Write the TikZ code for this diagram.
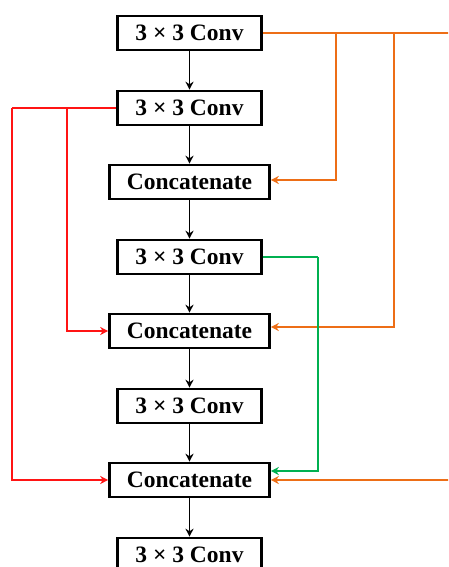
\documentclass[tikz,border=0pt]{standalone}
\usepackage{fontspec}
\setmainfont{Liberation Serif}
\usetikzlibrary{arrows.meta}
\definecolor{skiporange}{RGB}{237,110,22}
\definecolor{skipred}{RGB}{255,20,20}
\definecolor{skipgreen}{RGB}{0,176,80}
\tikzset{
  convbox/.style={draw=black, line width=2.6pt, fill=white, inner sep=0pt,
    minimum width=144pt, minimum height=34pt, font=\fontsize{23.5}{25}\selectfont\bfseries},
  catbox/.style={convbox, minimum width=160pt},
  flow/.style={line width=1.6pt, -{Stealth[length=8pt,width=8pt]}},
  skip/.style={line width=1.6pt, -{Stealth[length=8pt,width=8pt,inset=2.5pt]}},
}
\begin{document}
\begin{tikzpicture}[x=1pt,y=-1pt]
  \useasboundingbox (0,0) rectangle (448,567);
  \clip (0,0) rectangle (448,567);

  % main column
  \node[convbox] (c1) at (189.5,33)  {3 × 3 Conv};
  \node[convbox] (c2) at (189.5,108) {3 × 3 Conv};
  \node[catbox]  (k1) at (189.5,182) {Concatenate};
  \node[convbox] (c3) at (189.5,257) {3 × 3 Conv};
  \node[catbox]  (k2) at (189.5,331) {Concatenate};
  \node[convbox] (c4) at (189.5,406) {3 × 3 Conv};
  \node[catbox]  (k3) at (189.5,480) {Concatenate};
  \node[convbox] (c5) at (189.5,555) {3 × 3 Conv};

  \draw[flow] (c1) -- (c2);
  \draw[flow] (c2) -- (k1);
  \draw[flow] (k1) -- (c3);
  \draw[flow] (c3) -- (k2);
  \draw[flow] (k2) -- (c4);
  \draw[flow] (c4) -- (k3);
  \draw[flow] (k3) -- (c5);

  % orange skips from the first convolution
  \coordinate (oa) at (336,33);
  \coordinate (ob) at (394,33);
  \coordinate (oc) at (470,33);
  \draw[skiporange, line width=1.6pt] (c1.east) -- (oc) -- (oc |- k3.east);
  \draw[skip, skiporange] (oa) |- ([yshift=2pt]k1.east);
  \draw[skip, skiporange] (ob) |- ([yshift=4pt]k2.east);
  \draw[skip, skiporange] (oc |- k3.east) -- (k3.east);

  % red skips from the second convolution
  \coordinate (ra) at (67,108);
  \coordinate (rb) at (12,108);
  \draw[skipred, line width=1.6pt] (c2.west) -- (rb);
  \draw[skip, skipred] (ra) |- (k2.west);
  \draw[skip, skipred] (rb) |- (k3.west);

  % green skip from the third convolution
  \coordinate (ga) at (318,257);
  \draw[skipgreen, line width=1.6pt] (c3.east) -- (ga);
  \draw[skip, skipgreen] (ga) |- ([yshift=9pt]k3.east);
\end{tikzpicture}
\end{document}
